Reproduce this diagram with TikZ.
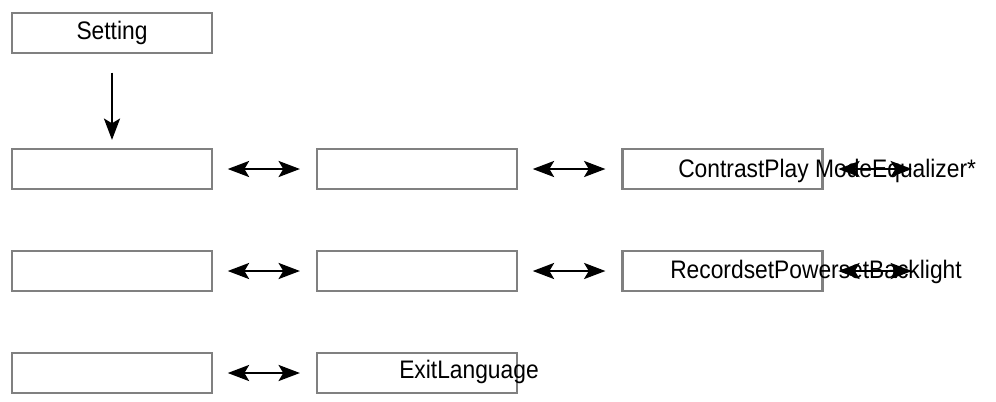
\documentclass[tikz,border=0pt]{standalone}
\usepackage{fontspec}
\setmainfont{Liberation Sans}[FakeStretch=0.9]
\usetikzlibrary{arrows.meta,positioning,calc}

\begin{document}
\begin{tikzpicture}[x=0.75pt,y=-0.75pt,
    menubox/.style={draw=black!50, line width=1.6pt, minimum width=150pt, minimum height=30pt, inner sep=0pt, font=\fontsize{19}{22}\selectfont},
    menutext/.style={font=\fontsize{19}{22}\selectfont, anchor=base west, inner sep=0pt},
    link/.style={{Stealth[length=16pt,width=12pt,inset=3.5pt]}-{Stealth[length=16pt,width=12pt,inset=3.5pt]}, line width=2pt, shorten <=11pt, shorten >=12pt}]
    \useasboundingbox (0,0) rectangle (996,401);

    % Top box
    \node[menubox] (setting) at (112,33) {Setting};

    % Menu rows
    \foreach \y [count=\r] in {169,271} {
        \foreach \x [count=\c] in {112,417,722.5} {
            \node[menubox] (m\r\c) at (\x,\y) {};
        }
    }
    \node[menubox] (m31) at (112,373) {};
    \node[menubox] (m32) at (417,373) {};

    % Texts
    \node[menutext] (t1) at (678,177) {ContrastPlay ModeEqualizer*};
    \node[menutext] (t2) at (670,278) {RecordsetPowersetBacklight};
    \node[menutext] (t3) at (399,378) {ExitLanguage};

    % Arrows
    \draw[-{Stealth[length=16pt,width=12pt,inset=3.5pt]}, line width=2pt, shorten <=14pt, shorten >=6pt] (setting) -- (m11);
    \coordinate (e1) at (928,169);
    \coordinate (e2) at (928,271);
    \foreach \r in {1,2} {
        \draw[link] (m\r1) -- (m\r2);
        \draw[link] (m\r2) -- (m\r3);
        \draw[link] (m\r3) -- (e\r);
    }
    \draw[link] (m31) -- (m32);
\end{tikzpicture}
\end{document}
